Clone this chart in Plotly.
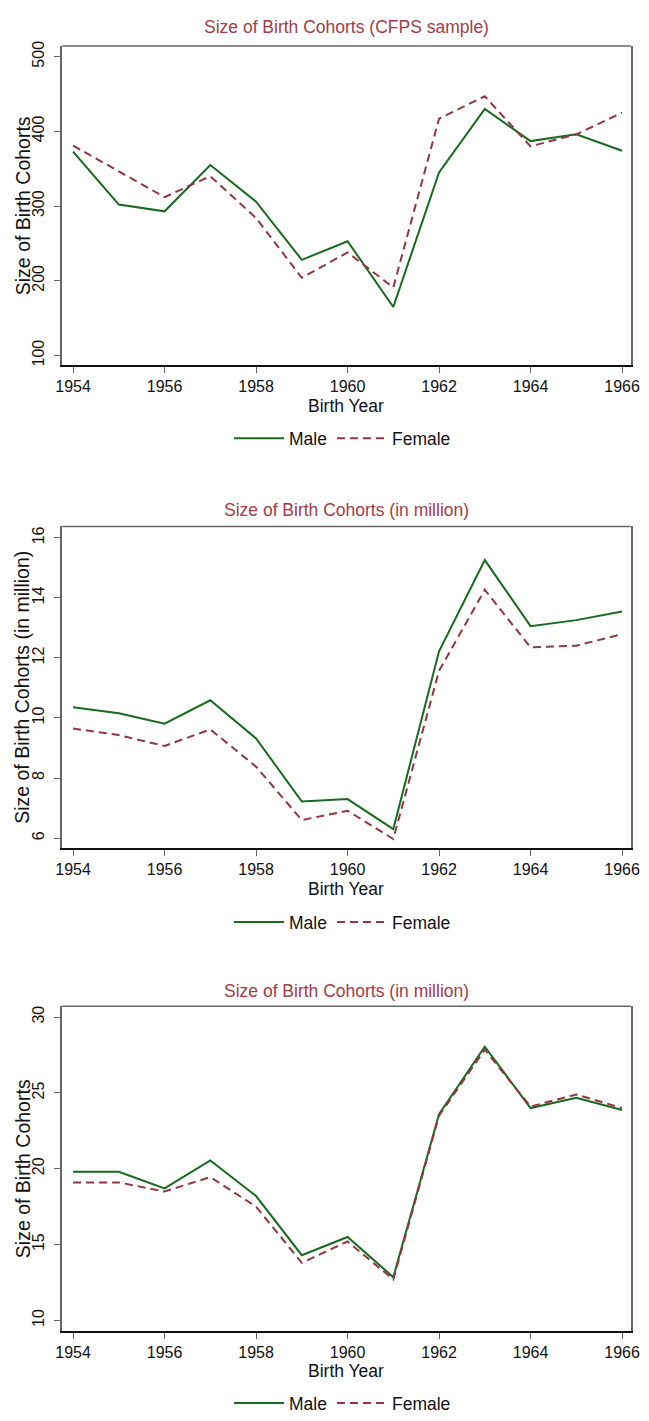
import plotly.graph_objects as go

W, H = 649, 1421

years = list(range(1954, 1967))

# Panel 1: CFPS sample counts
cfps_male = [373, 302, 293, 355, 306, 228, 253, 165, 345, 430, 387, 396, 374]
cfps_female = [381, 346, 312, 340, 284, 204, 238, 191, 417, 447, 380, 396, 425]

# Panel 2: in million
mil_male = [10.36, 10.16, 9.81, 10.59, 9.32, 7.22, 7.30, 6.30, 12.22, 15.26, 13.06, 13.26, 13.55]
mil_female = [9.65, 9.43, 9.07, 9.62, 8.38, 6.60, 6.91, 5.97, 11.57, 14.27, 12.35, 12.41, 12.79]

# Panel 3: in million
mil2_male = [19.8, 19.8, 18.7, 20.55, 18.2, 14.3, 15.5, 12.85, 23.6, 28.05, 24.0, 24.68, 23.87]
mil2_female = [19.1, 19.1, 18.5, 19.45, 17.5, 13.8, 15.2, 12.7, 23.5, 27.85, 24.1, 24.9, 24.0]

titles = ["Size of Birth Cohorts (CFPS sample)",
          "Size of Birth Cohorts (in million)",
          "Size of Birth Cohorts (in million)"]
ytitles = ["Size of Birth Cohorts", "Size of Birth Cohorts (in million)", "Size of Birth Cohorts"]
xtitle = "Birth Year"
series_names = ["Male", "Female"]

yticks = [[100, 200, 300, 400, 500], [6, 8, 10, 12, 14, 16], [10, 15, 20, 25, 30]]
yranges = [[87.1, 514.2], [5.67, 16.38], [9.31, 30.71]]
xticks = [1954, 1956, 1958, 1960, 1962, 1964, 1966]
xrange_ = [1953.765, 1966.19]

GREEN = "#176b1f"
MAROON = "#923641"
TITLE_C = "#a23c48"
FONT = "Liberation Sans, Arial, sans-serif"

def py(p):
    return 1 - p / H

def px(p):
    return p / W

# pixel geometry of each panel (top, bottom)
panels = [(41.5, 364), (527, 852), (1012, 1340)]
title_y = [22, 510, 997]
legend_y = [438, 927, 1413]
x_left, x_right = 56.7, 639.5
xc = 348

data = [(cfps_male, cfps_female), (mil_male, mil_female), (mil2_male, mil2_female)]

fig = go.Figure()
annotations = []
shapes = []
layout = dict(width=W, height=H, margin=dict(l=0, r=0, t=0, b=0),
              paper_bgcolor="white", plot_bgcolor="white",
              font=dict(family=FONT, color="#111"))

for i, (m, f) in enumerate(data):
    k = "" if i == 0 else str(i + 1)
    lg = "legend" if i == 0 else f"legend{i + 1}"
    fig.add_trace(go.Scatter(x=years, y=m, mode="lines", name=series_names[0],
                             line=dict(color=GREEN, width=2),
                             xaxis="x" + k, yaxis="y" + k, legend=lg))
    fig.add_trace(go.Scatter(x=years, y=f, mode="lines", name=series_names[1],
                             line=dict(color=MAROON, width=2, dash="8px,5px"),
                             xaxis="x" + k, yaxis="y" + k, legend=lg))
    top, bot = panels[i]
    layout["xaxis" + k] = dict(domain=[px(x_left), px(x_right)], anchor="y" + k,
                               range=xrange_, tickvals=xticks,
                               ticks="outside", ticklen=6, tickcolor="#666", tickwidth=1.3,
                               showline=True, mirror=False, linecolor="#111", linewidth=2,
                               showgrid=False, zeroline=False,
                               tickfont=dict(size=16, color="#111"))
    layout["yaxis" + k] = dict(domain=[py(bot), py(top)], anchor="x" + k,
                               range=yranges[i], tickvals=yticks[i],
                               ticks="outside", ticklen=7, tickcolor="#666", tickwidth=1.3,
                               tickangle=-90, ticklabelstandoff=3,
                               showline=True, mirror=True, linecolor="#666", linewidth=1.5,
                               showgrid=False, zeroline=False,
                               tickfont=dict(size=16, color="#111"))
    shapes.append(dict(type="line", xref=f"x{k} domain", yref=f"y{k} domain",
                       x0=0, x1=1, y0=1, y1=1, line=dict(color="#666", width=1.5)))
    layout[lg] = dict(orientation="h", xanchor="center", yanchor="middle",
                      x=px(xc - 4), y=py(legend_y[i]), xref="paper", yref="paper",
                      font=dict(size=17.5, color="#111"), bgcolor="rgba(0,0,0,0)",
                      itemwidth=50)
    annotations.append(dict(text=titles[i], x=px(xc), y=py(title_y[i]), xref="paper", yref="paper",
                            showarrow=False, font=dict(size=17.5, color=TITLE_C),
                            xanchor="center", yanchor="middle"))
    annotations.append(dict(text=xtitle, x=px(xc), y=py(bot + 41), xref="paper", yref="paper",
                            showarrow=False, font=dict(size=17.5, color="#111"),
                            xanchor="center", yanchor="middle"))
    annotations.append(dict(text=ytitles[i], x=px(16), y=py((top + bot) / 2), xref="paper", yref="paper",
                            showarrow=False, textangle=-90, font=dict(size=19.5, color="#111"),
                            xanchor="center", yanchor="middle"))

layout["annotations"] = annotations
layout["shapes"] = shapes
fig.update_layout(**layout)

fig.write_html("out.html", config={"displayModeBar": False},
               post_script="document.body.style.margin='0';document.body.style.overflow='hidden';")
